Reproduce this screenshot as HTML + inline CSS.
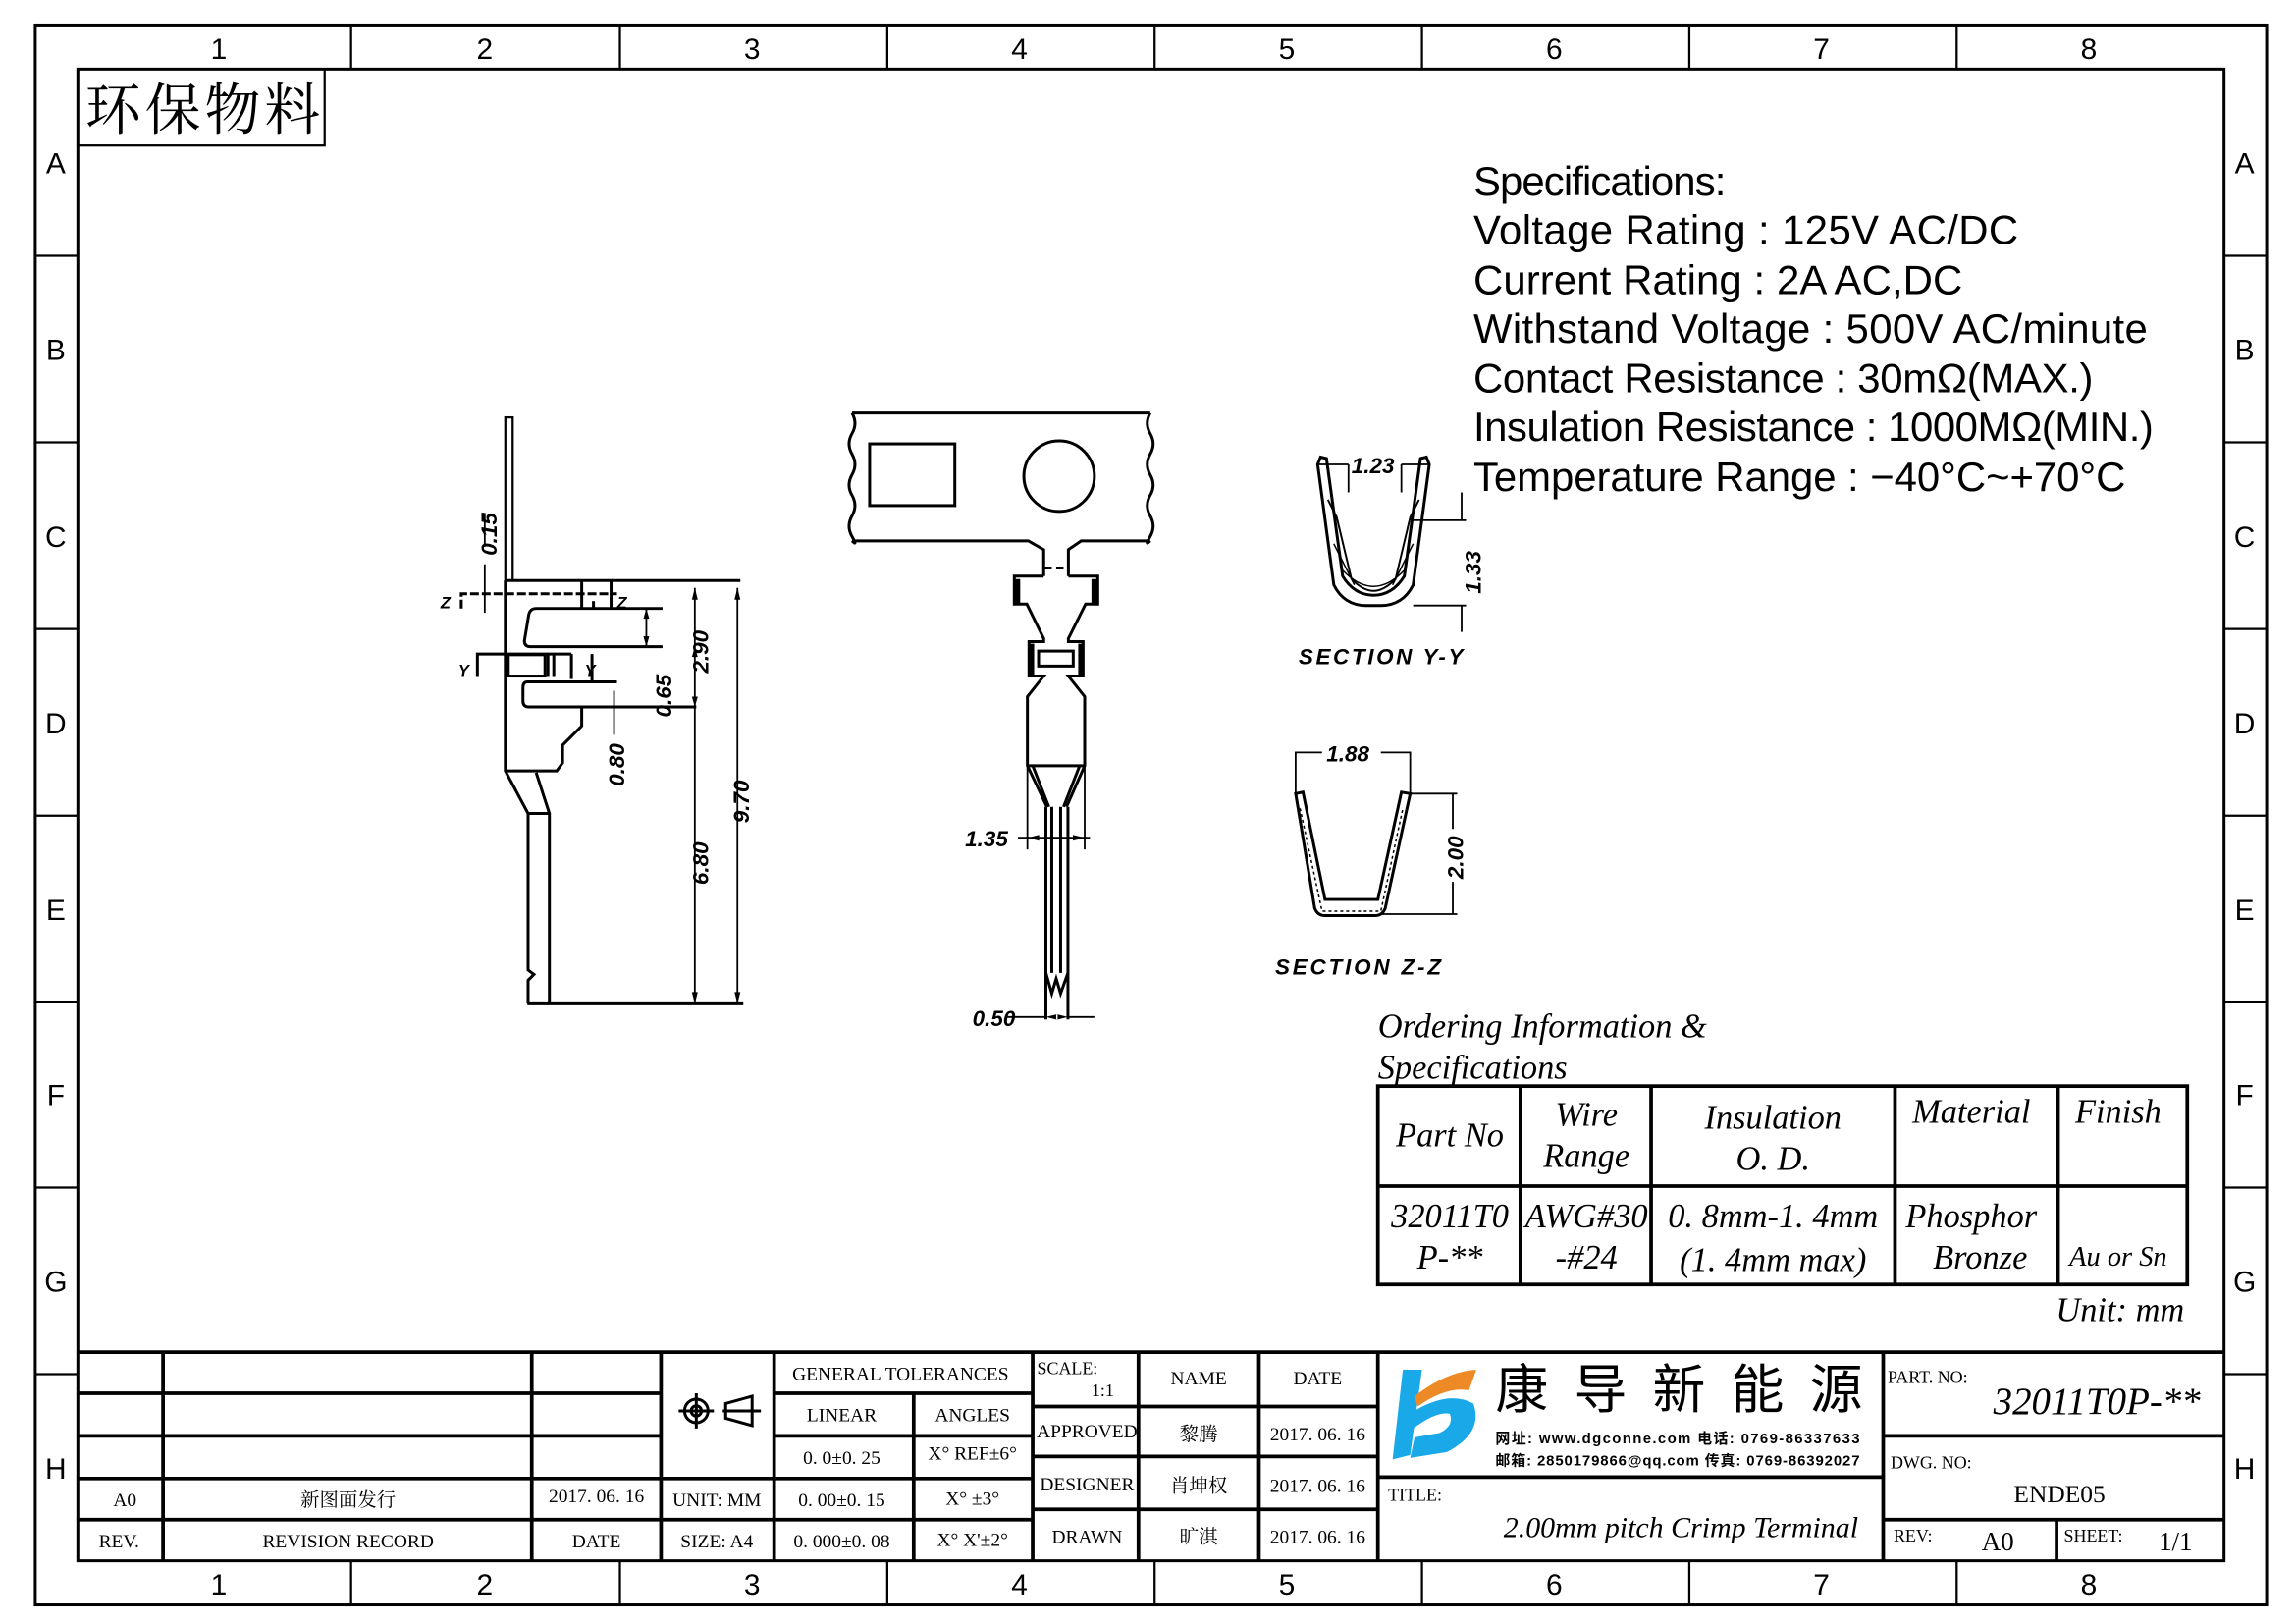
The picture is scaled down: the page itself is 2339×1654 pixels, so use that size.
<!DOCTYPE html>
<html><head><meta charset="utf-8"><style>
html,body{margin:0;padding:0;background:#fff}
svg{display:block}
.s{font-family:"Liberation Serif","Noto Serif CJK SC",serif}
.m{font-family:"Liberation Mono","Noto Sans CJK SC",monospace}
.a{font-family:"Liberation Sans","Noto Sans CJK SC",sans-serif}
.i{font-family:"Liberation Serif",serif;font-style:italic}
.d{font-family:"Liberation Sans",sans-serif;font-style:italic;font-weight:bold}
</style></head><body>
<svg width="2339" height="1654" viewBox="0 0 1563 1105" preserveAspectRatio="none" xmlns="http://www.w3.org/2000/svg">
<g fill="none" stroke="#000">
<rect x="24" y="17" width="1519" height="1075" stroke-width="2"/>
<rect x="53" y="47" width="1461" height="1015" stroke-width="2"/>
<g stroke-width="1.5">
<path d="M239 17V47M422 17V47M604 17V47M786 17V47M968 17V47M1150 17V47M1332 17V47"/>
<path d="M239 1062V1092M422 1062V1092M604 1062V1092M786 1062V1092M968 1062V1092M1150 1062V1092M1332 1062V1092"/>
<path d="M24 174H53M24 301H53M24 428H53M24 555H53M24 682H53M24 808H53M24 935H53"/>
<path d="M1514 174H1543M1514 301H1543M1514 428H1543M1514 555H1543M1514 682H1543M1514 808H1543M1514 935H1543"/>
</g>
<rect x="53" y="47" width="168" height="52" stroke-width="1.5"/>
<g stroke-width="2.5">
<path d="M53 920H1514"/>
<path d="M53 948H450M53 977H450M53 1006H527M53 1034H703"/>
<path d="M527 948H703M527 977H703M527 1006H703"/>
<path d="M703 957H938M703 991H938M703 1027H938"/>
<path d="M938 1005H1282M1282 977H1514M1282 1034H1514"/>
<path d="M111 920V1062M362 920V1062M450 920V1062M527 920V1062M622 948V1062M703 920V1062M775 920V1062M857 920V1062M938 920V1062M1282 920V1062M1400 1034V1062"/>
</g>
<g stroke-width="2"><circle cx="474" cy="960" r="8"/><circle cx="474" cy="960" r="3.5"/><path d="M462 960H486M474 948V972M492 960H518M494 955L512 950V970L494 965Z"/></g>
<g stroke-width="2.5"><rect x="938" y="739" width="551" height="135"/><path d="M938 807H1489M1035 739V874M1124 739V874M1290 739V874M1401 739V874"/></g>

<!-- side view -->
<g stroke-width="2">
<rect x="344" y="284" width="5" height="111" stroke-width="1.5"/>
<path d="M344 395V524.5L359.5 553.5V660l4 3-4 4V683"/>
<path d="M365 525.7L374 553.5V683"/>
<path d="M359.5 553.5H374"/>
<path d="M344 395H504"/>
<path d="M359 683H506"/>
<path d="M396 481V494L383 507V519L379 524.5H344"/>
<path d="M451 414H365Q361 414 360 418L357 436Q357 440 361 440H451"/>
<path d="M420 464H359Q356 464 356 468V477Q356 481 360 481H474"/>
<rect x="346" y="445.5" width="25" height="14.5"/>
<path d="M396 395.5V414M416 395.5V414M373 445V460M377 445V460M403 445V464"/>
<path d="M314 414V404H420" stroke-dasharray="6 2"/>
<path d="M404 409V414"/>
<path d="M325 460V445H389"/>
<path d="M389 445V462"/>
<path d="M330 417V395M330 395V384M330 349V372" stroke-width="1.2"/>
<path d="M473 400V683M502 400V683M418 470V480M418 481V500M440 414V440" stroke-width="1.2"/>
</g>
<g fill="#000" stroke="none">
<path d="M473 400l-2 8h4zM473 683l-2-8h4zM502 400l-2 8h4zM502 683l-2-8h4zM440 414l-2 7h4zM440 440l-2-7h4zM473 440l-2 7h4zM473 481l-2-7h4z"/>
</g>
<!-- front view -->
<g stroke-width="2">
<path d="M580 281H783M580 368H700L710.5 374V392M783 368H736L727.3 374V392"/>
<path d="M580 281q4 7 0 14t0 14 0 14 0 14 0 14 0 14 0 3M783 281q-4 7 0 14t0 14 0 14 0 14 0 14 0 14 0 3"/>
<path d="M711 386.5H727" stroke-dasharray="5 3"/>
<rect x="592" y="302" width="58" height="42"/>
<ellipse cx="721" cy="324" rx="24" ry="24"/>
<path d="M710.5 392H690.5V411H699L710.5 434.5V436.6H700.5V460H710.5L699.4 474V521L712.7 549M727.3 392H747.3V411H739L727.3 434.5V436.6H737.3V460H727.3L738.4 474V521L726 549"/>
<rect x="707" y="443" width="23.6" height="10.2"/>
<path d="M699.4 521H738.4M703 521L714 549M735 521L724 549"/>
<path d="M712 549V693.6M727 549V693.6M716 549V662M722 549V662M712 662L716 676L719 666L722 676L727 662"/>
<path d="M699.4 521V578M738.4 521V578M693 570H742M685 692H712M727 692H745" stroke-width="1.2"/>
</g>
<g fill="#000" stroke="none">
<rect x="690.5" y="394" width="4" height="17"/><rect x="743" y="394" width="4" height="17"/>
<rect x="700.5" y="438" width="3.5" height="22"/><rect x="734" y="438" width="3.5" height="22"/>
<path d="M699.4 570l8-2v4zM738.4 570l-8-2v4zM712 692l8-2v4zM727 692l-8-2v4z"/>
</g>
<!-- section Y-Y -->
<g stroke-width="2">
<path d="M897 316L899 311L903 312L914 392Q922 405 935 405Q948 405 956 392L967 312L971 311L973 316L962 398Q955 412 940 412H930Q915 412 908 398Z"/>
<path d="M904 340L910 352L920 394Q928 402 935 402Q942 402 950 394L960 352L966 340" stroke-width="1.3"/>
<path d="M908 370L922 398M962 370L948 398M914 388Q935 410 956 388" stroke-width="1"/>
<path d="M898 316H918M918 316V335M954 316V335M954 316H972" stroke-width="1.2"/>
<path d="M962 354H998M962 412H998M995 335V354M995 412V430" stroke-width="1.2"/>
</g>
<!-- section Z-Z -->
<g stroke-width="2">
<path d="M882 540L887 539L902 612H938L954 539L960 540L943 618Q941 623 936 623H902Q897 623 895 618Z"/>
<path d="M885 550L900 620H940L955 550" stroke-width="1" stroke-dasharray="2 2"/>
<path d="M882 540V512H900M940 512H960V540M960 540H992M940 622H992M989 540V564M989 600V622" stroke-width="1.2"/>
</g>
</g>

<g class="a" font-size="20" text-anchor="middle" fill="#000">
<text x="149" y="40">1</text><text x="330" y="40">2</text><text x="512" y="40">3</text><text x="694" y="40">4</text><text x="876" y="40">5</text><text x="1058" y="40">6</text><text x="1240" y="40">7</text><text x="1422" y="40">8</text>
<text x="149" y="1085">1</text><text x="330" y="1085">2</text><text x="512" y="1085">3</text><text x="694" y="1085">4</text><text x="876" y="1085">5</text><text x="1058" y="1085">6</text><text x="1240" y="1085">7</text><text x="1422" y="1085">8</text>
<text x="38" y="118">A</text><text x="38" y="245">B</text><text x="38" y="372">C</text><text x="38" y="499">D</text><text x="38" y="626">E</text><text x="38" y="752">F</text><text x="38" y="879">G</text><text x="38" y="1006">H</text>
<text x="1528" y="118">A</text><text x="1528" y="245">B</text><text x="1528" y="372">C</text><text x="1528" y="499">D</text><text x="1528" y="626">E</text><text x="1528" y="752">F</text><text x="1528" y="879">G</text><text x="1528" y="1006">H</text>
</g>
<text x="58" y="88" class="s" font-size="38" textLength="160" fill="#000">环保物料</text>

<g class="a" font-size="28" fill="#000">
<text x="1003" y="133" textLength="172">Specifications:</text>
<text x="1003" y="166" textLength="371">Voltage  Rating : 125V AC/DC</text>
<text x="1003" y="200" textLength="333">Current  Rating : 2A AC,DC</text>
<text x="1003" y="233" textLength="459">Withstand  Voltage : 500V AC/minute</text>
<text x="1003" y="267" textLength="422">Contact  Resistance : 30mΩ(MAX.)</text>
<text x="1003" y="300" textLength="463">Insulation  Resistance : 1000MΩ(MIN.)</text>
<text x="1003" y="334" textLength="444">Temperature  Range : −40°C~+70°C</text>
</g>

<g class="i" font-size="23" fill="#000">
<text x="938" y="706">Ordering Information &amp;</text>
<text x="938" y="734">Specifications</text>
<g text-anchor="middle">
<text x="987" y="780">Part No</text>
<text x="1080" y="766">Wire</text><text x="1080" y="794">Range</text>
<text x="1207" y="768">Insulation</text><text x="1207" y="796">O. D.</text>
<text x="1342" y="764">Material</text>
<text x="1442" y="764">Finish</text>
<text x="987" y="835">32011T0</text><text x="987" y="863">P-**</text>
<text x="1080" y="835">AWG#30</text><text x="1080" y="863">-#24</text>
<text x="1207" y="835">0. 8mm-1. 4mm</text><text x="1207" y="865">(1. 4mm max)</text>
<text x="1342" y="835">Phosphor</text><text x="1348" y="863">Bronze</text>
<text x="1442" y="861" font-size="19">Au or Sn</text>
</g>
<text x="1487" y="899" text-anchor="end">Unit: mm</text>
</g>

<g class="d" font-size="15" fill="#000">
<text transform="translate(338,378) rotate(-90)">0.15</text>
<text transform="translate(482,458) rotate(-90)">2.90</text>
<text transform="translate(457,488) rotate(-90)">0.65</text>
<text transform="translate(425,535) rotate(-90)">0.80</text>
<text transform="translate(482,602) rotate(-90)">6.80</text>
<text transform="translate(510,560) rotate(-90)">9.70</text>
<text x="300" y="414" font-size="11">Z</text><text x="420" y="414" font-size="11">Z</text>
<text x="312" y="460" font-size="11">Y</text><text x="398" y="460" font-size="11">Y</text>
<text x="657" y="576">1.35</text>
<text x="662" y="698">0.50</text>
<text x="920" y="322">1.23</text>
<text transform="translate(1008,404) rotate(-90)">1.33</text>
<text x="884" y="452" textLength="112">SECTION Y-Y</text>
<text x="903" y="518">1.88</text>
<text transform="translate(996,598) rotate(-90)">2.00</text>
<text x="868" y="663" textLength="113">SECTION Z-Z</text>
</g>

<g class="s" font-size="13" fill="#000" text-anchor="middle">
<text x="613" y="939">GENERAL TOLERANCES</text>
<text x="573" y="967">LINEAR</text><text x="662" y="967">ANGLES</text>
<text x="573" y="996">0. 0±0. 25</text><text x="662" y="993">X° REF±6°</text>
<text x="85" y="1025">A0</text><text x="237" y="1025">新图面发行</text><text x="406" y="1022">2017. 06. 16</text><text x="488" y="1025">UNIT: MM</text>
<text x="573" y="1025">0. 00±0. 15</text><text x="662" y="1024">X° ±3°</text>
<text x="81" y="1053">REV.</text><text x="237" y="1053">REVISION RECORD</text><text x="406" y="1053">DATE</text><text x="488" y="1053">SIZE: A4</text>
<text x="573" y="1053">0. 000±0. 08</text><text x="662" y="1052">X° X'±2°</text>
<text x="816" y="942">NAME</text><text x="897" y="942">DATE</text>
<text x="740" y="978">APPROVED</text><text x="816" y="980">黎腾</text><text x="897" y="980">2017. 06. 16</text>
<text x="740" y="1014">DESIGNER</text><text x="816" y="1015">肖坤权</text><text x="897" y="1015">2017. 06. 16</text>
<text x="740" y="1050">DRAWN</text><text x="816" y="1050">旷淇</text><text x="897" y="1050">2017. 06. 16</text>
<text x="1402" y="1022" font-size="17">ENDE05</text>
<text x="1360" y="1055" font-size="18">A0</text>
<text x="1481" y="1055" font-size="18">1/1</text>
</g>
<g class="s" font-size="12" fill="#000">
<text x="706" y="935">SCALE:</text><text x="743" y="950">1:1</text>
<text x="945" y="1021">TITLE:</text>
<text x="1285" y="941">PART. NO:</text>
<text x="1287" y="999">DWG. NO:</text>
<text x="1289" y="1049">REV:</text>
<text x="1405" y="1049">SHEET:</text>
</g>
<text x="1498" y="962" class="i" font-size="26" text-anchor="end" fill="#000">32011T0P-**</text>
<text x="1265" y="1046" class="i" font-size="20" text-anchor="end" fill="#000">2.00mm pitch Crimp Terminal</text>

<path d="M955 932H968L960 990L948 993Z" fill="#1aa9e8"/>
<path d="M958 963Q985 945 1003 955Q1010 975 985 988L960 992L963 978L980 975Q990 970 987 962Q978 960 962 972Z" fill="#1aa9e8"/>
<path d="M963 950Q985 933 1005 932L1000 946Q985 943 965 957Z" fill="#ee8a26"/>
<text x="1018" y="958" class="a" font-size="36" textLength="250" fill="#000">康 导 新 能 源</text>
<text x="1018" y="982" class="a" font-size="10" font-weight="bold" textLength="248" fill="#000">网址: www.dgconne.com    电话: 0769-86337633</text>
<text x="1018" y="997" class="a" font-size="10" font-weight="bold" textLength="248" fill="#000">邮箱: 2850179866@qq.com 传真: 0769-86392027</text>
</svg>
</body></html>
